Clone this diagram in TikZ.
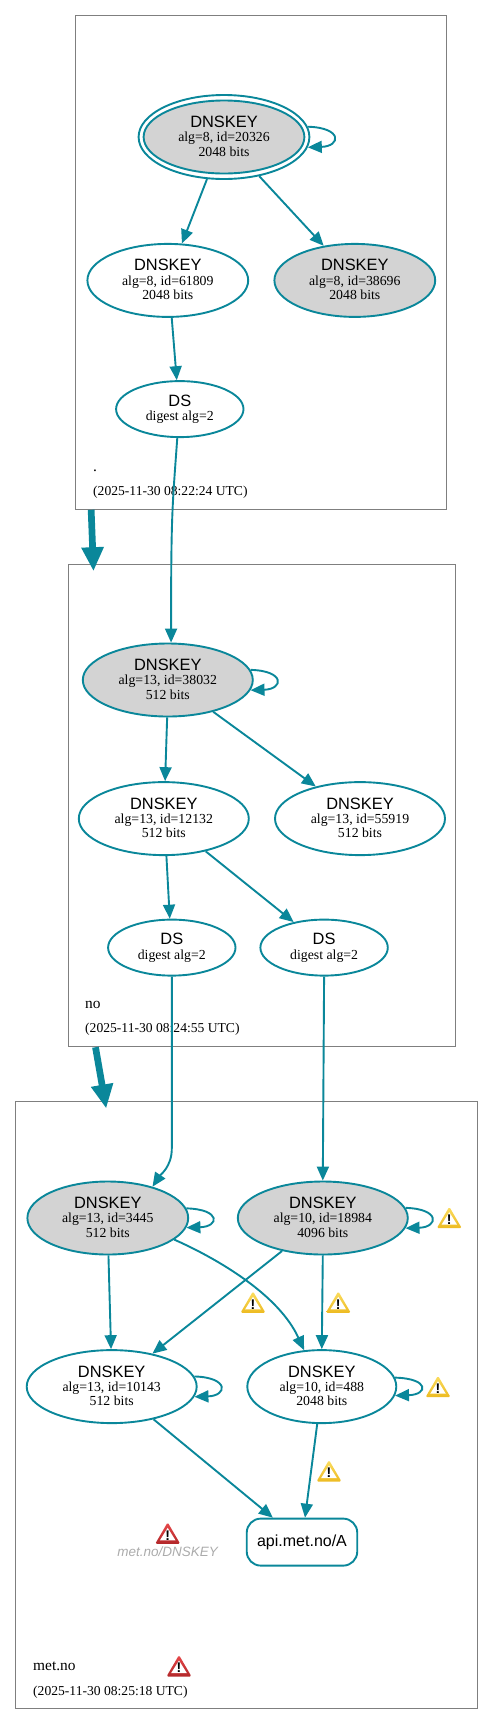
\documentclass[tikz,border=0pt]{standalone}
\usepackage{fontspec}
\setmainfont{Liberation Serif}
\setsansfont{Liberation Sans}
\usepackage{xcolor}
\usepackage{tikz}
\usetikzlibrary{positioning, arrows.meta, shapes.geometric}

\definecolor{edgeteal}{HTML}{0A879A}
\definecolor{keygray}{HTML}{D3D3D3}
\definecolor{zonegray}{HTML}{7F7F7F}
\definecolor{yellowtop}{HTML}{FBDD60}
\definecolor{yellowbot}{HTML}{EDBB22}
\definecolor{redtop}{HTML}{E8484A}
\definecolor{redbot}{HTML}{B3282A}

\newcommand{\keytext}[2]{{\sffamily\fontsize{16.4}{14}\selectfont DNSKEY}\\#1\\#2\rule[-2pt]{0pt}{2pt}}
\newcommand{\dstext}{{\sffamily\fontsize{16.4}{14}\selectfont DS}\\digest alg=2}

\begin{document}
\begin{tikzpicture}[
        x=1pt, y=-1pt,
        font=\fontsize{13.8}{14.3}\selectfont,
        zone/.style={draw=zonegray, line width=1pt, inner sep=0pt},
        dnskey/.style={draw=edgeteal, ellipse, line width=1.9pt, inner sep=0pt, minimum width=#1, minimum height=73pt, align=center},
        dnskey/.default=170pt,
        dsnode/.style={draw=edgeteal, ellipse, line width=1.9pt, inner sep=0pt, minimum width=127.4pt, minimum height=56pt, align=center},
        signed/.style={fill=keygray},
        arr/.style={-{Triangle[length=14pt, width=12pt]}, draw=edgeteal, line width=1.9pt},
        bigarr/.style={-{Triangle[length=24pt, width=21pt]}, draw=edgeteal, line width=6.7pt},
        zonename/.style={anchor=base west, inner sep=0pt, font=\fontsize{15.4}{16}\selectfont},
        stamp/.style={anchor=base west, inner sep=0pt, font=\fontsize{13.6}{14}\selectfont},
        warnsign/.pic={
            \shade[top color=#1top, bottom color=#1bot, rounded corners=1.5pt] (0,-11) -- (12.5,10.5) -- (-12.5,10.5) -- cycle;
            \fill[white] (0,-5.5) -- (7.8,7) -- (-7.8,7) -- cycle;
            \node[inner sep=0pt, font=\sffamily\bfseries\fontsize{14}{14}\selectfont] (mark) at (0,2) {!};
        },
    ]
    \useasboundingbox (0,0) rectangle (493,1725);

    % Zones
    \node[zone, minimum width=370.7pt, minimum height=493.6pt] (zoneroot) at (261.3,262.5) {};
    \node[zone, minimum width=387.3pt, minimum height=482.7pt] (zoneno) at (261.65,805.35) {};
    \node[zone, minimum width=461.3pt, minimum height=607.4pt] (zonemet) at (246.35,1405) {};

    % Root zone
    \node[draw=edgeteal, ellipse, line width=1.9pt, minimum width=170.8pt, minimum height=84pt, inner sep=0pt] (rootouter) at (224,137) {};
    \node[dnskey=160.8pt, signed] (root) at (224,137) {\keytext{alg=8, id=20326}{2048 bits}};
    \node[dnskey=160.8pt, below=63pt of rootouter, xshift=-56.2pt] (k61809) {\keytext{alg=8, id=61809}{2048 bits}};
    \node[dnskey=160.8pt, signed, right=24.3pt of k61809] (k38696) {\keytext{alg=8, id=38696}{2048 bits}};
    \node[dsnode, below=62.3pt of k61809, xshift=12pt] (dsroot) {\dstext};
    \node[zonename] (nameroot) at (93,471) {.};
    \node[stamp] (stamproot) at (93,495) {(2025-11-30 08:22:24 UTC)};

    % no zone
    \node[dnskey, signed] (k38032) at (167.8,680) {\keytext{alg=13, id=38032}{512 bits}};
    \node[dnskey, below=63.7pt of k38032, xshift=-4pt] (k12132) {\keytext{alg=13, id=12132}{512 bits}};
    \node[dnskey, right=24.3pt of k12132] (k55919) {\keytext{alg=13, id=55919}{512 bits}};
    \node[dsnode, below=62.6pt of k12132, xshift=8pt] (dsleft) {\dstext};
    \node[dsnode, right=23pt of dsleft] (dsright) {\dstext};
    \node[zonename] (nameno) at (85,1008) {no};
    \node[stamp] (stampno) at (85,1032) {(2025-11-30 08:24:55 UTC)};

    % met.no zone
    \node[dnskey=160.8pt, signed] (k3445) at (107.8,1218) {\keytext{alg=13, id=3445}{512 bits}};
    \node[dnskey, signed, right=47.7pt of k3445] (k18984) {\keytext{alg=10, id=18984}{4096 bits}};
    \node[dnskey, below=93.7pt of k3445, xshift=3.9pt] (k10143) {\keytext{alg=13, id=10143}{512 bits}};
    \node[dnskey=149pt, right=48.7pt of k10143] (k488) {\keytext{alg=10, id=488}{2048 bits}};
    \node[draw=edgeteal, rounded corners=14pt, line width=1.9pt, minimum width=110.5pt, minimum height=47pt, inner sep=0pt, font=\sffamily\fontsize{16}{16}\selectfont, below=93.6pt of k488, xshift=-19.8pt] (api) {api.met.no/A};
    \node[inner sep=0pt, text=black!33, font=\sffamily\itshape\fontsize{13.5}{14}\selectfont] (ghost) at (167.7,1551.3) {met.no/DNSKEY};
    \node[zonename] (namemet) at (33,1670) {met.no};
    \node[stamp] (stampmet) at (33,1695) {(2025-11-30 08:25:18 UTC)};

    % Warnings
    \pic (warna) at (449.3,1217.7) {warnsign=yellow};
    \pic (warnb) at (338.3,1302.3) {warnsign=yellow};
    \pic (warnc) at (253,1302.3) {warnsign=yellow};
    \pic (warnd) at (438,1386.7) {warnsign=yellow};
    \pic (warne) at (329,1471) {warnsign=yellow};
    \pic (warnf) at (167.7,1533.3) {warnsign=red};
    \pic (warng) at (179,1666) {warnsign=red};

    % Arrows
    \draw[arr] (rootouter.-112) -- (k61809.69);
    \draw[arr] (rootouter.-48) -- (k38696.132);
    \draw[arr] (k61809.-84) -- (dsroot.96);
    \draw[arr] (dsroot.-95) .. controls +(-5,70) and +(0,-130) .. (k38032.85);
    \draw[arr] (k38032.-91) -- (k12132.88);
    \draw[arr] (k38032.-35.5) -- (k55919.144);
    \draw[arr] (k12132.-86) -- (dsleft.94);
    \draw[arr] (k12132.-38) -- (dsright.140);
    \draw[arr] (dsleft.-90) -- ++(0,172) .. controls +(0,18) and +(8,-12) .. (k3445.35);
    \draw[arr] (dsright.-90) -- (k18984.90);
    \draw[arr] (k3445.-89) -- (k10143.91);
    \draw[arr] (k3445.-18) .. controls +(45,20) and +(-25,-55) .. (k488.116);
    \draw[arr] (k18984.-141) -- (k10143.39);
    \draw[arr] (k18984.-90) -- (k488.90);
    \draw[arr] (k10143.-38.4) -- (api.140);
    \draw[arr] (k488.-97.5) -- (api.83);

    % Self signatures
    \foreach \keyname in {rootouter,k38032,k3445,k18984,k10143,k488}
        \draw[arr] (\keyname.7) .. controls +(35,1) and +(33,-1) .. (\keyname.-7);

    % Delegations
    \draw[bigarr] ([xshift=15.7pt]zoneroot.south west) -- ([xshift=26pt,yshift=-7.7pt]zoneno.north west);
    \draw[bigarr] ([xshift=28pt]zoneno.south west) -- ([xshift=91pt,yshift=-7.7pt]zonemet.north west);
\end{tikzpicture}
\end{document}
